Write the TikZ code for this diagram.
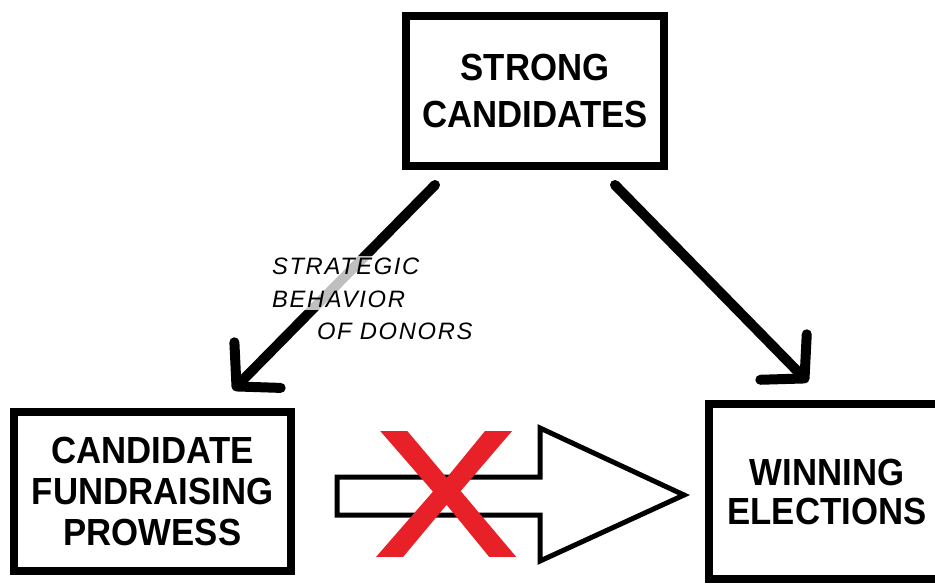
\documentclass[tikz,border=0pt]{standalone}
\usepackage{fontspec}
\setmainfont{Liberation Sans}
\newfontfamily\boxfont[FakeStretch=0.92]{Liberation Sans}
\newfontfamily\notefont[LetterSpace=7]{Liberation Sans}
\newfontfamily\crossfont[FakeBold=2]{Liberation Sans}
\usetikzlibrary{arrows.meta, calc}
\definecolor{crossred}{RGB}{232,32,40}

\begin{document}
\begin{tikzpicture}[x=0.02cm, y=-0.02cm,
    factor/.style={draw, line width=0.16cm, align=center, inner sep=0pt},
    effect/.style={draw, line width=0.2cm, line cap=round,
      -{Straight Barb[round, length=0.6cm, width=1.3cm]}},
    note/.style={inner sep=1pt, align=left,
      font=\notefont\itshape\fontsize{13.5}{18.8}\selectfont},
    blockarrow/.style={draw, line width=0.1cm, fill=white}]
  \clip (0,0) rectangle (935,584);
  \fill[white] (0,0) rectangle (935,584);
  % the three boxes
  \node[factor, minimum width=5.16cm, minimum height=3cm,
    font=\boxfont\bfseries\fontsize{21.5}{26.2}\selectfont] (candidates) at (535,91) {STRONG\\CANDIDATES};
  \node[factor, minimum width=5.54cm, minimum height=3.18cm,
    font=\boxfont\bfseries\fontsize{21.5}{23.3}\selectfont] (fundraising) at (152.5,491.5) {CANDIDATE\\FUNDRAISING\\PROWESS};
  \node[factor, minimum width=4.72cm, minimum height=3.5cm,
    font=\boxfont\bfseries\fontsize{21.5}{22.2}\selectfont] (elections) at (827,491.5) {WINNING\\ELECTIONS};
  % crossed out link
  \draw[blockarrow] (337,477) -- (540,477) -- (540,428) -- (684,495) -- (540,561) -- (540,515) -- (337,515) -- cycle;
  \node[inner sep=0pt, text=crossred, font=\crossfont\fontsize{101}{101}\selectfont] (cross) at (446,494) {\scalebox{1.19}[1]{X}};
  % arrows from the top box
  \draw[effect] ($(candidates.south west)+(33,15)$) -- ($(fundraising.north east)+(-62,-18)$);
  \draw[effect] ($(candidates.south east)+(-53,15)$) -- ($(elections.north west)+(103,-18)$);
  \node[note, anchor=north west, fill=white, fill opacity=0.75, text opacity=1] (donors) at (270,256) {STRATEGIC\\BEHAVIOR};
  \node[note, anchor=north west] (ofdonors) at (315,321) {OF DONORS};
\end{tikzpicture}
\end{document}
